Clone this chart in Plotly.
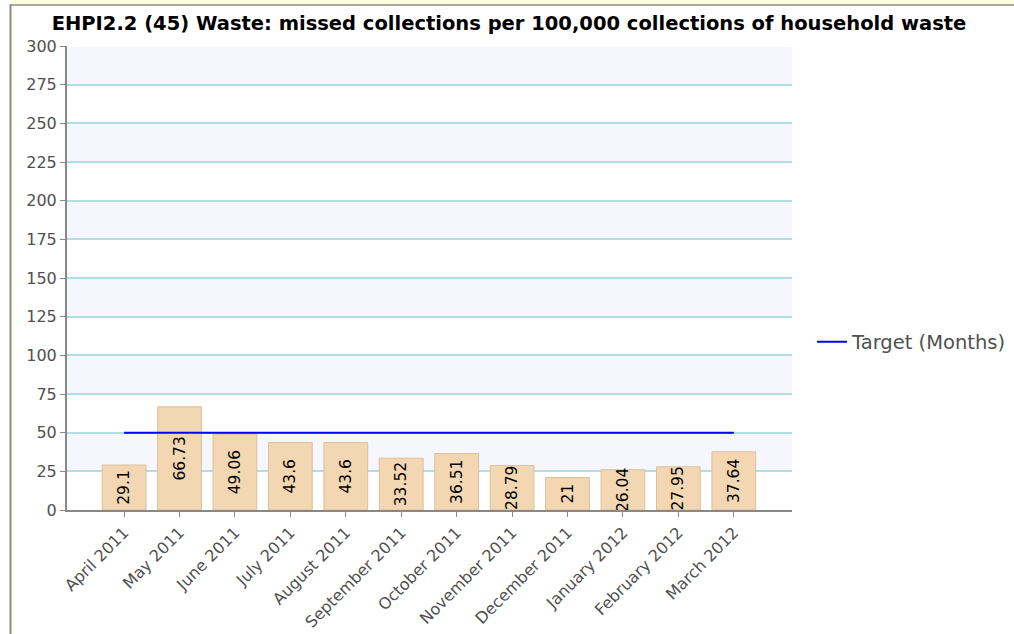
import plotly.graph_objects as go

months = ["April 2011", "May 2011", "June 2011", "July 2011", "August 2011",
          "September 2011", "October 2011", "November 2011", "December 2011",
          "January 2012", "February 2012", "March 2012"]
values = [29.1, 66.73, 49.06, 43.6, 43.6, 33.52, 36.51, 28.79, 21, 26.04, 27.95, 37.64]
target = [50] * 12
y_ticks = list(range(0, 301, 25))
title = "EHPI2.2 (45) Waste: missed collections per 100,000 collections of household waste"

W, H = 1014, 634
L, R, T, B = 67, 222, 46, 124
pw, ph = W - L - R, H - T - B


def px_x(p):
    return (p - L) / pw


def px_y(p):
    return (H - B - p) / ph


fig = go.Figure()
fig.add_trace(go.Bar(
    x=list(range(len(months))), y=values,
    text=[f"{v:g}" for v in values], textposition="inside", textangle=-90,
    insidetextanchor="middle", constraintext="none",
    textfont=dict(family="DejaVu Sans", size=15.5, color="#000000"),
    marker=dict(color="#f3d6b2", line=dict(color="#dcc09c", width=1)),
    width=0.79, showlegend=False, hoverinfo="skip",
))
fig.add_trace(go.Scatter(
    x=list(range(len(months))), y=target, mode="lines",
    line=dict(color="#0000ff", width=2), name="Target (Months)",
))

shapes = []
# alternating bands (inset slightly so grid lines stay visible)
for lo in range(25, 300, 50):
    shapes.append(dict(type="rect", xref="paper", yref="y", x0=0, x1=1,
                       y0=lo + 0.6, y1=lo + 24.4,
                       fillcolor="#f6f7fe", line=dict(width=0), layer="below"))
# frame: top yellow band and left border
shapes.append(dict(type="rect", xref="paper", yref="paper", x0=px_x(11), x1=px_x(W),
                   y0=px_y(4.5), y1=px_y(0), fillcolor="#fffbe0", line=dict(width=0),
                   layer="above"))
shapes.append(dict(type="line", xref="paper", yref="paper", x0=px_x(10), x1=px_x(W),
                   y0=px_y(5), y1=px_y(5), line=dict(color="#8c8c7c", width=1.5),
                   layer="above"))
shapes.append(dict(type="line", xref="paper", yref="paper", x0=px_x(10.5), x1=px_x(10.5),
                   y0=px_y(4.5), y1=px_y(H), line=dict(color="#8c8c7c", width=2),
                   layer="above"))

fig.update_layout(
    width=W, height=H,
    margin=dict(l=L, r=R, t=T, b=B, autoexpand=False),
    paper_bgcolor="#ffffff", plot_bgcolor="rgba(0,0,0,0)",
    font=dict(family="DejaVu Sans", color="#505050", size=13),
    title=dict(text="<b>" + title + "</b>", x=509 / W, xanchor="center",
               y=1 - 23 / H, yanchor="middle",
               font=dict(family="DejaVu Sans", size=19.5, color="#000000")),
    xaxis=dict(range=[-1.03, 12.05], tickmode="array", tickvals=list(range(len(months))),
               ticktext=months, tickangle=-45, ticks="outside", ticklen=5,
               tickcolor="#888888", showline=True, linecolor="#888888", linewidth=2,
               showgrid=False, zeroline=False, tickfont=dict(size=16, color="#505050")),
    yaxis=dict(range=[0, 300], tickmode="array", tickvals=y_ticks, ticks="outside",
               ticklen=5, tickcolor="#888888", showline=True, linecolor="#888888",
               linewidth=2, showgrid=True, gridcolor="#afdee7", gridwidth=1.5,
               zeroline=False, tickfont=dict(size=16, color="#505050")),
    legend=dict(x=px_x(812), y=px_y(342), xanchor="left", yanchor="middle",
                font=dict(size=19.5, color="#505050"), bgcolor="rgba(0,0,0,0)"),
    showlegend=True,
    shapes=shapes,
    bargap=0.2,
)

fig.write_html("out.html", config={"displayModeBar": False},
               post_script="document.body.style.margin='0';")
